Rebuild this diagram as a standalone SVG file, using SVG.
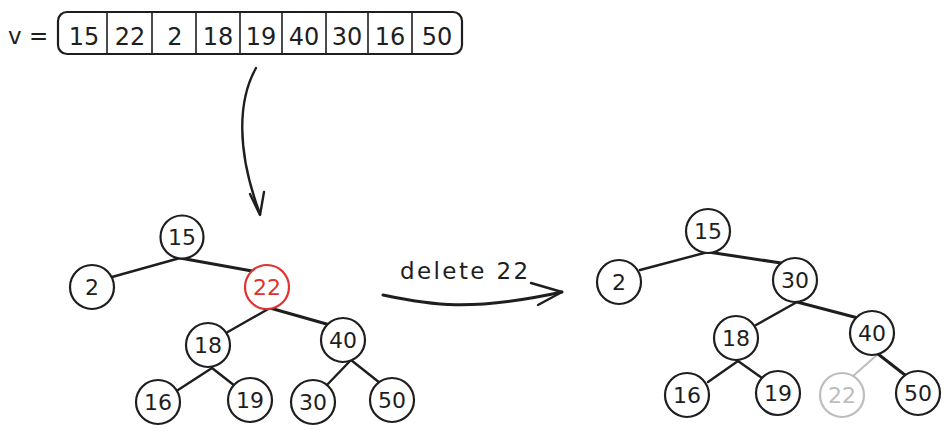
<svg xmlns="http://www.w3.org/2000/svg" width="952" height="434" viewBox="0 0 952 434">
<style>
  .n circle { fill: #ffffff; stroke: #1e1e1e; stroke-width: 2.2; }
  .n text { font-family: "DejaVu Sans", "Liberation Sans", sans-serif; font-size: 22px; fill: #1e1e1e; text-anchor: middle; }
  .red circle { stroke: #e03131; }
  .red text { fill: #e03131; }
  .gray circle { stroke: #bdbdbd; }
  .gray text { fill: #bdbdbd; }
  .e { stroke: #1e1e1e; stroke-width: 2.4; fill: none; stroke-linecap: round; stroke-linejoin: round; }
  .eb { stroke-width: 3; }
  .eg { stroke: #bdbdbd; stroke-width: 2; fill: none; stroke-linecap: round; }
  .arr { font-family: "DejaVu Sans", "Liberation Sans", sans-serif; font-size: 23px; fill: #1e1e1e; }
  .cell { font-family: "DejaVu Sans", "Liberation Sans", sans-serif; font-size: 24px; fill: #1e1e1e; text-anchor: middle; }
</style>
<rect width="952" height="434" fill="#ffffff"/>

<g id="array">
  <text class="arr" x="8" y="44">v =</text>
  <rect x="58" y="12" width="404" height="42" rx="9" fill="none" stroke="#1e1e1e" stroke-width="2.2"/>
  <g stroke="#1e1e1e" stroke-width="1.6">
    <line x1="107" y1="12" x2="107" y2="54"/>
    <line x1="152" y1="12" x2="152" y2="54"/>
    <line x1="196" y1="12" x2="196" y2="54"/>
    <line x1="240" y1="12" x2="240" y2="54"/>
    <line x1="282" y1="12" x2="282" y2="54"/>
    <line x1="326" y1="12" x2="326" y2="54"/>
    <line x1="368" y1="12" x2="368" y2="54"/>
    <line x1="412" y1="12" x2="412" y2="54"/>
  </g>
  <text class="cell" x="84" y="45">15</text>
  <text class="cell" x="130" y="45">22</text>
  <text class="cell" x="175" y="45">2</text>
  <text class="cell" x="218" y="45">18</text>
  <text class="cell" x="261" y="45">19</text>
  <text class="cell" x="304" y="45">40</text>
  <text class="cell" x="347" y="45">30</text>
  <text class="cell" x="390" y="45">16</text>
  <text class="cell" x="437" y="45">50</text>
</g>

<g id="connectors">
  <!-- array to tree arrow -->
  <path class="e" d="M256 68 C 238 100, 236 150, 260 214"/>
  <path class="e" d="M250 194 L260 215 L264 192"/>
  <!-- delete arrow -->
  <path class="e eb" d="M383 295 C 430 305, 470 312, 562 292"/>
  <path class="e" d="M531 283 L562 292 L538 305"/>
  <!-- tree 1 -->
  <line class="e" x1="112" y1="277" x2="180" y2="258"/>
  <line class="e eb" x1="180" y1="258" x2="252" y2="271"/>
  <line class="e" x1="270" y1="308" x2="226" y2="333"/>
  <line class="e eb" x1="270" y1="308" x2="330" y2="325"/>
  <line class="e" x1="212" y1="368" x2="178" y2="390"/>
  <line class="e" x1="212" y1="368" x2="235" y2="386"/>
  <line class="e" x1="351" y1="360" x2="325" y2="387"/>
  <line class="e" x1="351" y1="360" x2="380" y2="383"/>
  <!-- tree 2 -->
  <line class="e" x1="640" y1="270" x2="708" y2="252"/>
  <line class="e eb" x1="708" y1="252" x2="781" y2="263"/>
  <line class="e" x1="797" y1="302" x2="756" y2="325"/>
  <line class="e eb" x1="797" y1="302" x2="858" y2="318"/>
  <line class="e" x1="738" y1="361" x2="708" y2="382"/>
  <line class="e" x1="738" y1="361" x2="762" y2="378"/>
  <line class="eg" x1="878" y1="354" x2="852" y2="377"/>
  <line class="e eb" x1="878" y1="354" x2="905" y2="375"/>
</g>

<text class="arr" x="400" y="279" letter-spacing="2.4">delete 22</text>

<g id="t1-15" class="n"><circle cx="182" cy="237" r="21.5"/><text x="182" y="245">15</text></g>
<g id="t1-2" class="n"><circle cx="92" cy="287" r="22"/><text x="92" y="295">2</text></g>
<g id="t1-22" class="n red"><circle cx="267" cy="287" r="22"/><text x="267" y="295">22</text></g>
<g id="t1-18" class="n"><circle cx="208" cy="345" r="22"/><text x="208" y="353">18</text></g>
<g id="t1-40" class="n"><circle cx="343" cy="340" r="22"/><text x="343" y="348">40</text></g>
<g id="t1-16" class="n"><circle cx="158" cy="402" r="22"/><text x="158" y="410">16</text></g>
<g id="t1-19" class="n"><circle cx="250" cy="400" r="22"/><text x="250" y="408">19</text></g>
<g id="t1-30" class="n"><circle cx="313" cy="402" r="22"/><text x="313" y="410">30</text></g>
<g id="t1-50" class="n"><circle cx="392" cy="400" r="22"/><text x="392" y="408">50</text></g>

<g id="t2-15" class="n"><circle cx="708" cy="231" r="22"/><text x="708" y="239">15</text></g>
<g id="t2-2" class="n"><circle cx="619" cy="282" r="22"/><text x="619" y="290">2</text></g>
<g id="t2-30" class="n"><circle cx="795" cy="280" r="22"/><text x="795" y="288">30</text></g>
<g id="t2-18" class="n"><circle cx="736" cy="338" r="22"/><text x="736" y="346">18</text></g>
<g id="t2-40" class="n"><circle cx="872" cy="333" r="22"/><text x="872" y="341">40</text></g>
<g id="t2-16" class="n"><circle cx="687" cy="395" r="22"/><text x="687" y="403">16</text></g>
<g id="t2-19" class="n"><circle cx="778" cy="393" r="22"/><text x="778" y="401">19</text></g>
<g id="t2-22" class="n gray"><circle cx="842" cy="395" r="22"/><text x="842" y="403">22</text></g>
<g id="t2-50" class="n"><circle cx="918" cy="393" r="22"/><text x="918" y="401">50</text></g>
</svg>
